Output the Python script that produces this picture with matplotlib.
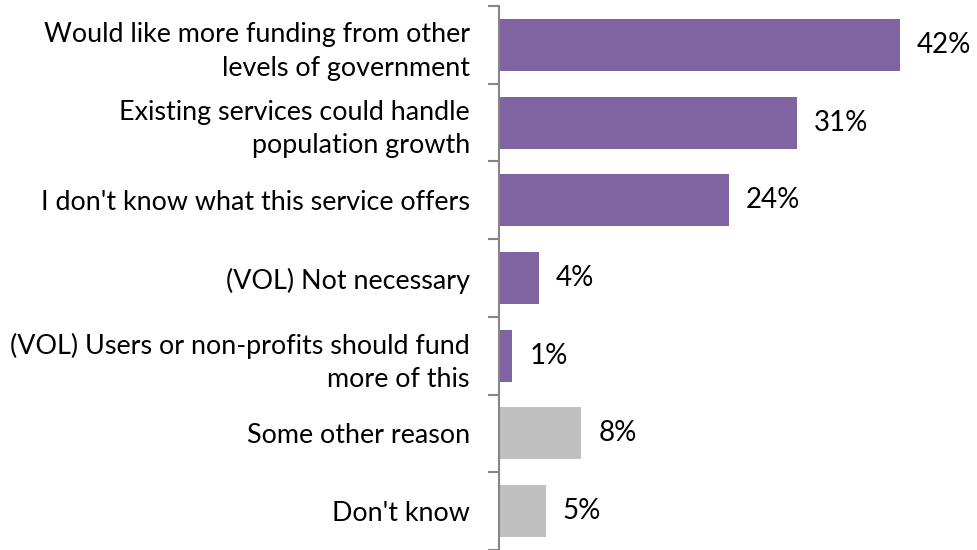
import matplotlib
matplotlib.use("Agg")
import matplotlib.pyplot as plt

categories = [
    "Would like more funding from other\nlevels of government",
    "Existing services could handle\npopulation growth",
    "I don't know what this service offers",
    "(VOL) Not necessary",
    "(VOL) Users or non-profits should fund\nmore of this",
    "Some other reason",
    "Don't know",
]
values = [42, 31.2, 24.1, 4.2, 1.4, 8.6, 4.9]
value_labels = ["42%", "31%", "24%", "4%", "1%", "8%", "5%"]
colors = ["#8064A2"] * 5 + ["#BFBFBF"] * 2

plt.rcParams['font.family'] = ['Lato', 'DejaVu Sans']
W, H = 977, 550
fig = plt.figure(figsize=(W / 100, H / 100), dpi=100)
ax = fig.add_axes([499 / W, 0, 477.5 / W, 544 / H])

y = list(range(len(categories)))
ax.barh(y, values, height=0.67, color=colors, zorder=2)
ax.set_ylim(len(categories) - 0.5, -0.5)
ax.set_xlim(0, 50)

for yi, v, lab in zip(y, values, value_labels):
    ax.text(v + 17 / 9.55, yi, lab, va="center", ha="left", fontsize=20, color="black")

ax.set_yticks(y)
ax.set_yticklabels(categories, fontsize=19.4, linespacing=1.42)
ax.set_yticks([i - 0.5 for i in range(len(categories) + 1)], minor=True)
ax.tick_params(axis="y", which="major", length=0, pad=21)
ax.tick_params(axis="y", which="minor", length=8, width=1.5, color="#868686", direction="out")
ax.set_xticks([])
for s in ["top", "right", "bottom"]:
    ax.spines[s].set_visible(False)
ax.spines["left"].set_color("#868686")
ax.spines["left"].set_linewidth(1.5)
for t in ax.get_yticklabels():
    t.set_horizontalalignment("right")
    t.set_multialignment("right")

fig.savefig("out.png", dpi=100)
